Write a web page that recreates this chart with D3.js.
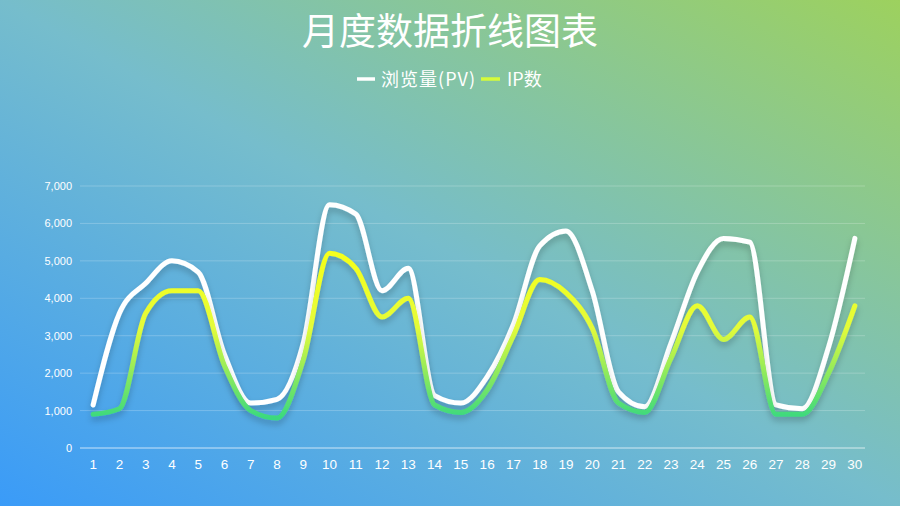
<!DOCTYPE html>
<html><head><meta charset="utf-8">
<script src="https://cdn.jsdelivr.net/npm/d3@7/dist/d3.min.js"></script>
<style>html,body{margin:0;padding:0;overflow:hidden;}svg{display:block;}</style>
</head><body>
<svg id="c" width="900" height="506"></svg>
<script>
const days = d3.range(1, 31).map(String);
const pvValues = [1150,3600,4400,5000,4700,2500,1200,1300,2800,6500,6250,4200,4800,1400,1200,1900,3300,5400,5800,4200,1500,1100,2800,4700,5600,5500,1150,1050,2700,5600];
const ipValues = [900,1050,3600,4200,4200,2200,1000,800,2350,5200,4800,3500,4000,1150,950,1550,3000,4500,4150,3200,1200,950,2400,3800,2900,3500,900,900,2000,3800];
const yTicks = [0,1000,2000,3000,4000,5000,6000,7000];
const seriesNames = ["浏览量(PV)", "IP数"];
const titleText = "月度数据折线图表";

const W = 900, H = 506;
const svg = d3.select("#c");
const defs = svg.append("defs");
const bg = defs.append("linearGradient").attr("id","bg").attr("x1","0%").attr("y1","100%").attr("x2","100%").attr("y2","0%");
bg.append("stop").attr("offset","0%").attr("stop-color","#3a9bf8");
bg.append("stop").attr("offset","50%").attr("stop-color","#76bdcc");
bg.append("stop").attr("offset","100%").attr("stop-color","#9dd15e");
svg.append("rect").attr("width",W).attr("height",H).attr("fill","url(#bg)");

const f = defs.append("filter").attr("id","sh").attr("x","-10%").attr("y","-10%").attr("width","120%").attr("height","130%");
f.append("feDropShadow").attr("dx",0).attr("dy",4).attr("stdDeviation",3).attr("flood-color","#000").attr("flood-opacity",0.22);

const m = {l:80, r:32, t:186, b:58};
const x = d3.scaleBand().domain(days).range([m.l, W-m.r]);
const y = d3.scaleLinear().domain([0,7000]).range([H-m.b, m.t]);
const xc = d => x(d) + x.bandwidth()/2;

const ipg = defs.append("linearGradient").attr("id","ipg").attr("gradientUnits","userSpaceOnUse")
  .attr("x1",0).attr("y1",y(5200)).attr("x2",0).attr("y2",y(800));
ipg.append("stop").attr("offset","0%").attr("stop-color","#f6ff1a");
ipg.append("stop").attr("offset","45%").attr("stop-color","#e4fb3a");
ipg.append("stop").attr("offset","100%").attr("stop-color","#3ad97e");

// grid
svg.append("g").selectAll("line").data(yTicks.slice(1)).join("line")
  .attr("x1",m.l).attr("x2",W-m.r-3).attr("y1",d=>y(d)).attr("y2",d=>y(d))
  .attr("stroke","rgba(255,255,255,0.22)").attr("stroke-width",1);

// y axis labels
const yAxis = d3.axisLeft(y).tickValues(yTicks).tickFormat(d3.format(",")).tickSize(0).tickPadding(8);
const ya = svg.append("g").attr("transform",`translate(${m.l},0)`).call(yAxis);
ya.select(".domain").remove();
ya.selectAll("text").attr("fill","#fff").attr("font-size",11).attr("font-family","'Liberation Sans', Arial, sans-serif");

// x axis
const xAxis = d3.axisBottom(x).tickSize(0).tickPadding(11);
const xa = svg.append("g").attr("transform",`translate(0,${y(0)})`).call(xAxis);
xa.select(".domain").attr("stroke","rgba(255,255,255,0.7)").attr("d",`M${m.l},0H${W-m.r-3}`);
xa.selectAll("text").attr("fill","#fff").attr("font-size",13.5).attr("font-family","'Liberation Sans', Arial, sans-serif");

const line = d3.line().x((d,i)=>xc(days[i])).y(d=>y(d)).curve(d3.curveMonotoneX);
svg.append("path").attr("d",line(pvValues)).attr("fill","none").attr("stroke","#fff")
  .attr("stroke-width",5).attr("stroke-linejoin","round").attr("stroke-linecap","round").attr("filter","url(#sh)");
svg.append("path").attr("d",line(ipValues)).attr("fill","none").attr("stroke","url(#ipg)")
  .attr("stroke-width",5).attr("stroke-linejoin","round").attr("stroke-linecap","round").attr("filter","url(#sh)");

// title
svg.append("text").attr("x",450).attr("y",45).attr("text-anchor","middle").attr("fill","#fff")
  .attr("font-size",37).attr("font-family","'Noto Sans CJK SC', sans-serif").text(titleText);

// legend
const lg = svg.append("g").attr("font-family","'Noto Sans CJK SC', sans-serif").attr("font-size",18).attr("fill","#fff");
lg.append("line").attr("x1",357).attr("x2",375).attr("y1",79).attr("y2",79).attr("stroke","#fff").attr("stroke-width",3.5);
lg.append("text").attr("x",381).attr("y",86).attr("textLength",94).text(seriesNames[0]);
lg.append("line").attr("x1",481).attr("x2",500).attr("y1",79).attr("y2",79).attr("stroke","#d6fb3a").attr("stroke-width",3.5);
lg.append("text").attr("x",507).attr("y",86).text(seriesNames[1]);
</script>
</body></html>
